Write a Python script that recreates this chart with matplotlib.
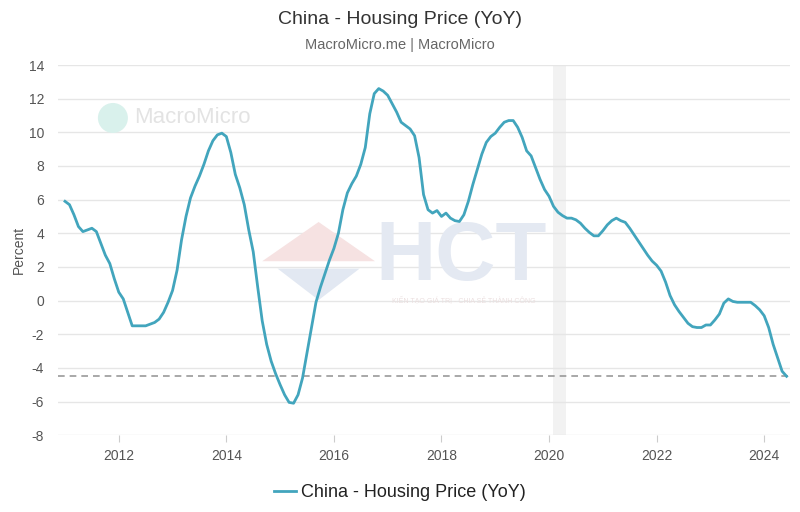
import matplotlib.pyplot as plt
import matplotlib.patches as mpatches
import numpy as np

plt.rcParams['font.family'] = ['Liberation Sans', 'DejaVu Sans']
plt.rcParams['axes.unicode_minus'] = False

# monthly YoY values, Jan 2011 onwards
start_year = 2011
housing_yoy = [
    5.9, 5.7, 5.1, 4.4, 4.1, 4.2, 4.3, 4.1, 3.4, 2.7, 2.2, 1.3,            # 2011
    0.5, 0.1, -0.7, -1.5, -1.5, -1.5, -1.5, -1.4, -1.3, -1.1, -0.7, -0.1,  # 2012
    0.6, 1.8, 3.6, 5.0, 6.1, 6.8, 7.4, 8.1, 8.9, 9.5, 9.85, 9.95,          # 2013
    9.75, 8.8, 7.5, 6.7, 5.7, 4.2, 2.9, 0.8, -1.2, -2.6, -3.6, -4.35,      # 2014
    -5.0, -5.6, -6.05, -6.1, -5.6, -4.6, -3.1, -1.6, -0.1, 0.8, 1.6, 2.4,  # 2015
    3.1, 4.0, 5.4, 6.4, 6.95, 7.4, 8.1, 9.1, 11.1, 12.3, 12.6, 12.45,      # 2016
    12.2, 11.7, 11.2, 10.6, 10.4, 10.2, 9.8, 8.5, 6.3, 5.4, 5.2, 5.35,     # 2017
    5.0, 5.2, 4.9, 4.75, 4.7, 5.1, 5.9, 6.9, 7.8, 8.7, 9.4, 9.75,          # 2018
    9.95, 10.3, 10.6, 10.7, 10.7, 10.3, 9.7, 8.9, 8.6, 7.9, 7.2, 6.6,      # 2019
    6.2, 5.6, 5.25, 5.05, 4.9, 4.9, 4.8, 4.6, 4.3, 4.05, 3.85, 3.85,       # 2020
    4.15, 4.5, 4.75, 4.9, 4.75, 4.65, 4.3, 3.9, 3.5, 3.1, 2.7, 2.35,       # 2021
    2.1, 1.75, 1.1, 0.3, -0.25, -0.65, -1.0, -1.35, -1.55, -1.6, -1.6, -1.45,  # 2022
    -1.45, -1.15, -0.8, -0.15, 0.1, -0.05, -0.1, -0.1, -0.1, -0.1, -0.3, -0.55,  # 2023
    -0.9, -1.6, -2.6, -3.4, -4.2, -4.5,                                    # 2024
]
latest_level = -4.5
recession = (2020.07, 2020.31)
years = [2012, 2014, 2016, 2018, 2020, 2022, 2024]
yticks = list(range(-8, 15, 2))

x = start_year + np.arange(len(housing_yoy)) / 12.0
line_color = "#42a5bd"

fig = plt.figure(figsize=(8, 5.12), dpi=100)
ax = fig.add_axes([0.0725, 0.150, 0.915, 0.723])

ax.axvspan(recession[0], recession[1], color="#f2f2f2", lw=0, zorder=0)

# watermarks
ax.add_patch(mpatches.Ellipse((0.075, 0.857), 0.041, 0.081, transform=ax.transAxes,
                              color="#d9f1ec", lw=0, zorder=1))
ax.text(0.104, 0.857, "MacroMicro", transform=ax.transAxes, fontsize=16,
        color="#e3e3e3", va="center", zorder=1)
ax.add_patch(mpatches.Polygon([(0.279, 0.47), (0.356, 0.576), (0.433, 0.47)],
                              closed=True, transform=ax.transAxes,
                              color="#f6e2e2", lw=0, zorder=1))
ax.add_patch(mpatches.Polygon([(0.300, 0.45), (0.356, 0.365), (0.412, 0.45)],
                              closed=True, transform=ax.transAxes,
                              color="#e2e8f2", lw=0, zorder=1))
ax.text(0.55, 0.48, "HCT", transform=ax.transAxes, fontsize=60,
        color="#e4e9f2", fontweight="bold", ha="center", va="center", zorder=1)
ax.text(0.555, 0.365, "KIẾN TẠO GIÁ TRỊ - CHIA SẺ THÀNH CÔNG", transform=ax.transAxes,
        fontsize=5, color="#ebdfdf", ha="center", va="center", zorder=1)

ax.axhline(latest_level, color="#999999", ls=(0, (4, 3)), lw=1.2, zorder=2)
ax.plot(x, housing_yoy, color=line_color, lw=2.0, label="China - Housing Price (YoY)", zorder=3)

ax.set_xlim(2010.87, 2024.48)
ax.set_ylim(-8, 14)
ax.set_yticks(yticks)
ax.set_xticks(years)
ax.grid(axis="y", color="#e6e6e6", lw=1)
ax.set_axisbelow(True)
for s in ax.spines.values():
    s.set_visible(False)
ax.tick_params(axis="y", length=0, labelsize=10, labelcolor="#555555", pad=10)
ax.tick_params(axis="x", length=5, color="#cccccc", labelsize=10, labelcolor="#555555", pad=5)
ax.set_ylabel("Percent", fontsize=10, color="#555555", labelpad=2)

fig.text(0.5, 0.962, "China - Housing Price (YoY)", ha="center", va="center",
         fontsize=14, color="#333333")
fig.text(0.5, 0.912, "MacroMicro.me | MacroMicro", ha="center", va="center",
         fontsize=10.5, color="#666666")

fig.legend(loc="center", bbox_to_anchor=(0.5, 0.038), frameon=False, fontsize=13,
           handlelength=1.2, handletextpad=0.3, labelcolor="#222222")

plt.savefig("out.png", dpi=100)
